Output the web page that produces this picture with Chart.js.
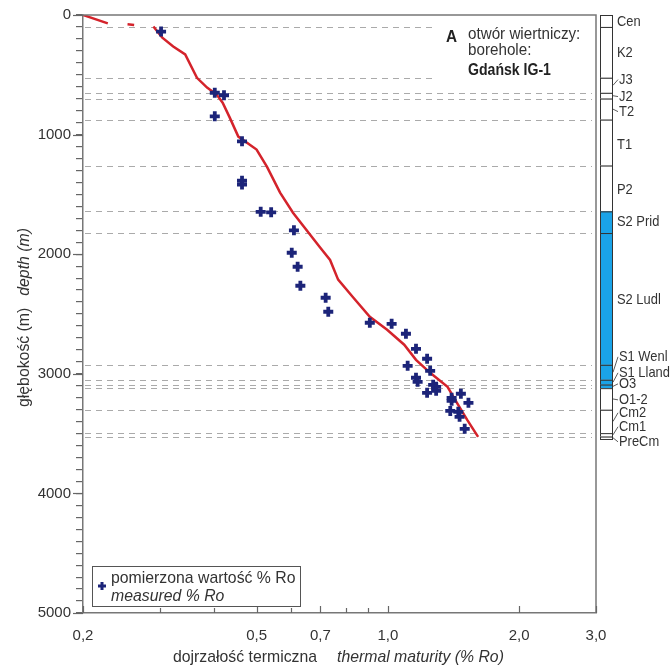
<!DOCTYPE html>
<html><head><meta charset="utf-8">
<script src="https://cdn.jsdelivr.net/npm/chart.js@4.4.1/dist/chart.umd.min.js"></script>
<style>html,body{margin:0;padding:0;background:#fff}#wrap{width:671px;height:666px}</style>
</head><body><div id="wrap"><canvas id="c" width="671" height="666"></canvas></div>
<script>
// ---- data ----
const curveRo    = [0.200,0.228,null,0.253,0.262,null,0.290,0.304,0.322,0.343,0.365,0.385,0.405,0.418,0.434,0.454,0.500,0.528,0.566,0.606,0.700,0.737,0.769,0.830,0.909,0.996,1.09,1.16,1.25,1.37,1.44,1.52,1.61];
const curveDepth = [0,70,null,78,83,null,96,190,263,330,525,607,665,733,858,1017,1125,1268,1485,1653,1946,2048,2213,2356,2523,2632,2757,2883,2992,3109,3243,3385,3527];
const measRo    = [0.302,0.401,0.421,0.401,0.463,0.463,0.463,0.511,0.540,0.609,0.602,0.621,0.630,0.720,0.730,0.909,1.02,1.10,1.16,1.23,1.11,1.25,1.16,1.17,1.27,1.29,1.29,1.23,1.40,1.40,1.47,1.53,1.39,1.45,1.46,1.50];
const measDepth = [139,650,671,847,1056,1386,1418,1646,1650,1800,1988,2105,2264,2364,2481,2573,2582,2665,2791,2874,2933,2975,3033,3067,3092,3109,3142,3159,3201,3226,3167,3243,3310,3318,3360,3460];
const xTickValues = [0.2,0.3,0.4,0.5,0.6,0.7,0.8,0.9,1.0,2.0,3.0];
const xTickLabels = ['0,2','','','0,5','','0,7','','','1,0','2,0','3,0'];
const yMajorTicks = [0,1000,2000,3000,4000,5000];
const stratNames = ['Cen','K2','J3','J2','T2','T1','P2','S2 Prid','S2 Ludl','S1 Wenl','S1 Lland','O3','O1-2','Cm2','Cm1','PreCm'];
const stratTops  = [0,100,525,651,699,875,1259,1642,1823,2925,3050,3090,3120,3301,3496,3525];
const stratBase  = 3545;
const stratSilurian = [false,false,false,false,false,false,false,true,true,true,true,true,false,false,false,false];
const stratLabelDepth = [54,314,540,682,808,1084,1460,1728,2381,2858,2992,3084,3218,3326,3443,3569];
const stratLeader = [false,false,true,true,true,false,false,false,false,true,true,true,true,true,true,true];

const FONT = "'Liberation Sans',Arial,sans-serif";
const TXT = '#333';

const curveData = curveRo.map((v,i)=> v===null ? {x:null,y:null} : {x:v,y:curveDepth[i]});
const measData = measRo.map((v,i)=>({x:v,y:measDepth[i]}));

function narrowText(ctx, s, x, y, sx){
  ctx.save(); ctx.translate(x,y); ctx.scale(sx,1); ctx.fillText(s,0,0); ctx.restore();
  return ctx.measureText(s).width*sx;
}

const deco = {
  id:'deco',
  beforeDatasetsDraw(chart){
    const {ctx, chartArea:a, scales:{y}} = chart;
    ctx.save();
    ctx.strokeStyle='#aaa'; ctx.lineWidth=1; ctx.setLineDash([6,5]);
    for(let i=1;i<stratTops.length;i++){
      const py = Math.round(y.getPixelForValue(stratTops[i]))+0.5;
      const end = stratTops[i] < 600 ? 432 : a.right-4;
      ctx.beginPath(); ctx.moveTo(a.left+2,py); ctx.lineTo(end,py); ctx.stroke();
    }
    ctx.restore();
  },
  afterDraw(chart){
    const {ctx, chartArea:a, scales:{x,y}} = chart;
    ctx.save();
    // box top / right
    ctx.strokeStyle='#777'; ctx.lineWidth=1.5;
    ctx.beginPath(); ctx.moveTo(a.left,a.top); ctx.lineTo(a.right,a.top); ctx.lineTo(a.right,a.bottom); ctx.stroke();
    // x ticks pointing inward
    ctx.strokeStyle='#666'; ctx.lineWidth=1.2;
    xTickValues.forEach((v,i)=>{
      const px = Math.round(x.getPixelForValue(v))+0.5;
      const len = xTickLabels[i] ? 7 : 5;
      ctx.beginPath(); ctx.moveTo(px,a.bottom); ctx.lineTo(px,a.bottom-len); ctx.stroke();
    });
    // longer major y ticks
    ctx.strokeStyle='#666'; ctx.lineWidth=1.2;
    yMajorTicks.forEach(v=>{
      const py = Math.round(y.getPixelForValue(v))+0.5;
      ctx.beginPath(); ctx.moveTo(a.left-10,py); ctx.lineTo(a.left,py); ctx.stroke();
    });
    // strat column
    const cx0 = a.right+4, cx1 = a.right+16;
    for(let i=0;i<stratTops.length;i++){
      const t = y.getPixelForValue(stratTops[i]);
      const b = y.getPixelForValue(i+1<stratTops.length ? stratTops[i+1] : stratBase);
      ctx.fillStyle = stratSilurian[i] ? '#1aa3e8' : '#fff';
      ctx.fillRect(cx0,t,cx1-cx0,b-t);
      ctx.strokeStyle='#333'; ctx.lineWidth=1;
      ctx.strokeRect(cx0+0.5,t+0.5,cx1-cx0,b-t);
    }
    // strat labels
    ctx.font = '15px '+FONT; ctx.fillStyle=TXT; ctx.textBaseline='middle'; ctx.textAlign='left';
    stratNames.forEach((n,i)=>{
      const ly = y.getPixelForValue(stratLabelDepth[i]);
      const lx = cx1 + (stratLeader[i] ? 7 : 5);
      narrowText(ctx, n, lx, ly, 0.86);
      if(stratLeader[i]){
        const t = stratTops[i], b = (i+1<stratTops.length ? stratTops[i+1] : stratBase);
        const my = y.getPixelForValue((t+b)/2);
        ctx.strokeStyle='#333'; ctx.lineWidth=0.8;
        ctx.beginPath(); ctx.moveTo(cx1+1,my); ctx.lineTo(lx-1,ly); ctx.stroke();
      }
    });
    // annotation
    ctx.textBaseline='alphabetic';
    ctx.font='bold 17px '+FONT; ctx.fillStyle='#222';
    narrowText(ctx,'A', 446, 42, 0.9);
    ctx.font='16px '+FONT; ctx.fillStyle=TXT;
    narrowText(ctx,'otwór wiertniczy:', 468, 39, 0.95);
    narrowText(ctx,'borehole:', 468, 55, 0.95);
    ctx.font='bold 16px '+FONT; ctx.fillStyle='#222';
    narrowText(ctx,'Gdańsk IG-1', 468, 75, 0.88);
    // legend
    ctx.fillStyle='#fff'; ctx.fillRect(92,566,208,40);
    ctx.strokeStyle='#555'; ctx.lineWidth=1; ctx.strokeRect(92.5,566.5,208,40);
    ctx.strokeStyle='#1c2479'; ctx.lineWidth=3;
    ctx.beginPath(); ctx.moveTo(98,586); ctx.lineTo(106,586); ctx.moveTo(102,582); ctx.lineTo(102,590); ctx.stroke();
    ctx.font='17px '+FONT; ctx.fillStyle=TXT;
    narrowText(ctx,'pomierzona wartość % Ro', 111, 583, 0.93);
    ctx.font='italic 17px '+FONT;
    narrowText(ctx,'measured % Ro', 111, 601, 0.93);
    // x title
    ctx.font='17px '+FONT; ctx.fillStyle=TXT;
    narrowText(ctx,'dojrzałość termiczna', 173, 662, 0.93);
    ctx.font='italic 17px '+FONT;
    narrowText(ctx,'thermal maturity (% Ro)', 337, 662, 0.93);
    // y title
    ctx.translate(29, 407); ctx.rotate(-Math.PI/2);
    ctx.font='17px '+FONT;
    const w1 = narrowText(ctx,'głębokość (m)',0,0,0.93);
    ctx.font='italic 17px '+FONT;
    narrowText(ctx,'depth (m)', w1+12, 0, 0.93);
    ctx.restore();
  }
};

new Chart(document.getElementById('c'), {
  type:'scatter',
  data:{datasets:[
    {type:'line', data:curveData, borderColor:'#d4232b', borderWidth:2.5, pointRadius:0, spanGaps:false, tension:0, order:2},
    {type:'scatter', data:measData, pointStyle:'cross', pointRadius:5, borderWidth:3.8, borderColor:'#1c2479', backgroundColor:'#1c2479', order:1}
  ]},
  options:{
    responsive:false, animation:false, devicePixelRatio:1,
    layout:{padding:{top:15,right:75,left:0,bottom:0}},
    plugins:{legend:{display:false}, tooltip:{enabled:false}},
    scales:{
      x:{type:'logarithmic', min:0.2, max:3,
        afterBuildTicks(s){ s.ticks = xTickValues.map(v=>({value:v})); },
        afterFit(s){ s.height = 53; },
        ticks:{autoSkip:false, maxRotation:0, padding:14, color:TXT, font:{family:FONT,size:15},
          callback(v){ const i = xTickValues.findIndex(t=>Math.abs(t-v)<1e-9); return i>=0 ? xTickLabels[i] : ''; }},
        grid:{display:false, drawTicks:false},
        border:{display:true, color:'#777', width:1.5}
      },
      y:{type:'linear', reverse:true, min:0, max:5000,
        afterFit(s){ s.width = 83; },
        ticks:{stepSize:100, autoSkip:false, padding:5, color:TXT, font:{family:FONT,size:15},
          callback(v){ return yMajorTicks.includes(v) ? String(v) : ''; }},
        grid:{drawOnChartArea:false, tickLength:7, color:'#666', lineWidth:1.2},
        border:{display:true, color:'#777', width:1.5}
      }
    }
  },
  plugins:[deco]
});
</script></body></html>
